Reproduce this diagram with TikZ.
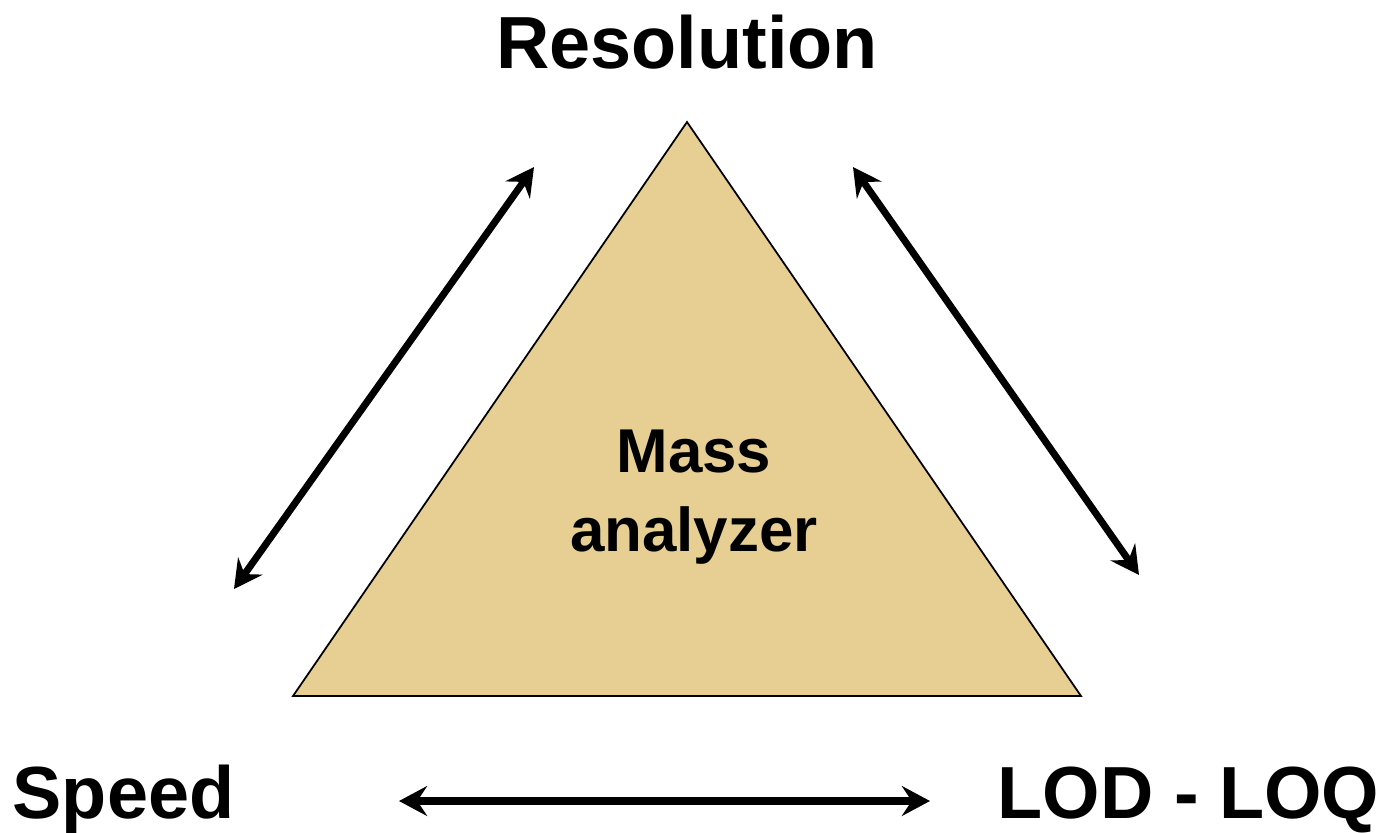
\documentclass[tikz,border=0pt]{standalone}
\usepackage{fontspec}
\setmainfont{Liberation Sans}
\usetikzlibrary{arrows.meta}
\definecolor{papyrus}{RGB}{231,207,147}
\tikzset{
  corner/.style    = {font=\fontsize{21}{25}\selectfont\bfseries,
                      anchor=base, inner sep=0pt},
  tradeoff/.style  = {line width=2pt,
                      >={Stealth[length=8pt,width=8.5pt,inset=2.8pt]},
                      <->}
}
\begin{document}
\begin{tikzpicture}[x=0.01cm,y=-0.01cm]
  \useasboundingbox (0,0) rectangle (1381,833);
  % the triangle
  \coordinate (apex)  at (687,122);
  \coordinate (baseL) at (293,696);
  \coordinate (baseR) at (1081,696);
  \filldraw[fill=papyrus, draw=black, line width=0.5pt]
    (apex) -- (baseL) -- (baseR) -- cycle;
  \node[font=\fontsize{17.6}{22.5}\selectfont\bfseries, align=center,
        inner sep=0pt] (mass) at (694,497) {Mass\\analyzer};

  % corners
  \node[corner] (res) at (687,68) {Resolution};
  \node[corner, anchor=base west] (speed) at (12,818) {Speed};
  \node[corner, anchor=base west] (lod) at (997,818) {LOD - LOQ};

  % arrows
  \coordinate (leftLo)  at (234,589);
  \coordinate (leftHi)  at (534,167);
  \coordinate (rightHi) at (853,167);
  \coordinate (rightLo) at (1139,575);
  \coordinate (botL)    at (399,801);
  \coordinate (botR)    at (930,801);
  \draw[tradeoff] (leftLo) -- (leftHi);
  \draw[tradeoff] (rightHi) -- (rightLo);
  \draw[tradeoff] (botL) -- (botR);
\end{tikzpicture}
\end{document}
